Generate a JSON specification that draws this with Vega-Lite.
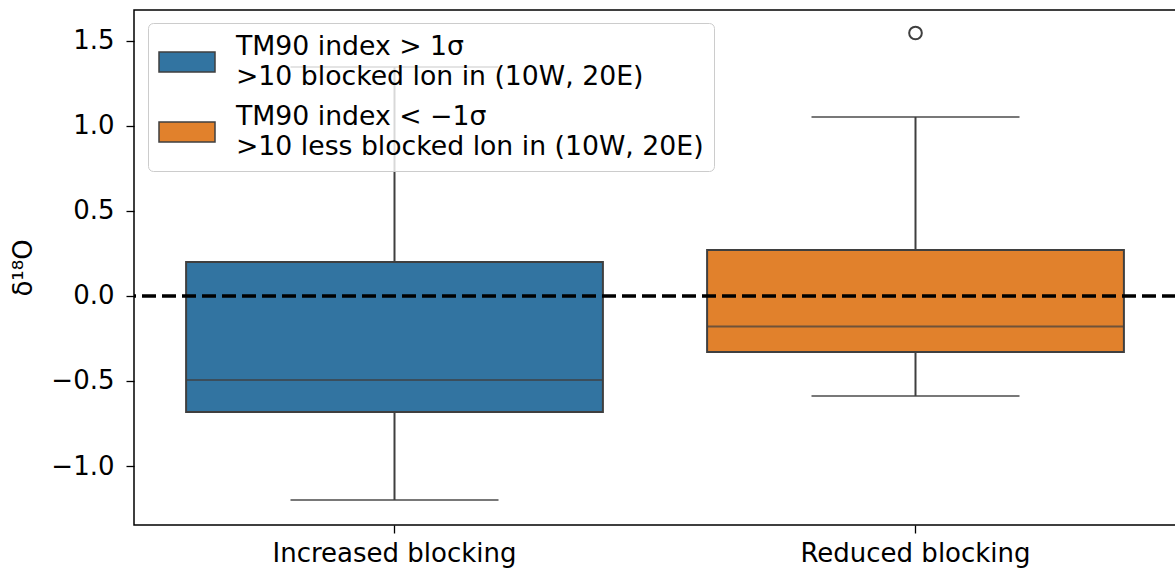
{
  "$schema": "https://vega.github.io/schema/vega-lite/v6.json",
  "autosize": {"type": "none"},
  "padding": {"left": 134, "top": 10, "right": 0, "bottom": 44},
  "width": 1042,
  "height": 515,
  "background": "white",
  "config": {
    "font": "DejaVu Sans",
    "view": {"stroke": "black", "strokeWidth": 1.5},
    "axis": {
      "domainColor": "black", "domainWidth": 1.5, "tickColor": "black", "tickWidth": 1.3, "tickSize": 8,
      "labelFontSize": 26, "labelColor": "black", "labelFont": "DejaVu Sans", "grid": false, "labelLimit": 1000,
      "titleFontSize": 26, "titleFontWeight": "normal", "titleColor": "black", "titleFont": "DejaVu Sans"
    },
    "legend": {
      "labelFontSize": 26.7, "labelColor": "black", "labelFont": "DejaVu Sans", "labelLimit": 1000
    },
    "style": {"guide-label": {"lineHeight": 29.5}}
  },
  "data": {"values": [
    {"group": "Increased blocking", "legend": "TM90 index  > 1σ|>10 blocked lon in (10W, 20E)", "lower": -1.2, "q1": -0.682, "median": -0.494, "q3": 0.2, "upper": 1.347},
    {"group": "Reduced blocking", "legend": "TM90 index  < −1σ|>10 less blocked lon in (10W, 20E)", "lower": -0.588, "q1": -0.33, "median": -0.18, "q3": 0.27, "upper": 1.053}
  ]},
  "encoding": {
    "x": {"field": "group", "type": "nominal", "sort": ["Increased blocking", "Reduced blocking"],
      "scale": {"paddingInner": 0, "paddingOuter": 0},
      "axis": {"title": null, "labelAngle": 0, "labelPadding": 7, "domain": false}}
  },
  "layer": [
    {
      "mark": {"type": "rule", "color": "#3f3f3f", "strokeWidth": 2},
      "encoding": {
        "y": {"field": "lower", "type": "quantitative", "scale": {"domain": [-1.347, 1.682], "nice": false, "zero": false},
          "title": "δ¹⁸O", "axis": {"values": [-1, -0.5, 0, 0.5, 1, 1.5], "format": ".1f", "labelPadding": 12, "titlePadding": 14, "domain": false}},
        "y2": {"field": "q1"}
      }
    },
    {
      "mark": {"type": "rule", "color": "#3f3f3f", "strokeWidth": 2},
      "encoding": {
        "y": {"field": "q3", "type": "quantitative", "title": "δ¹⁸O"},
        "y2": {"field": "upper"}
      }
    },
    {
      "mark": {"type": "bar", "width": {"band": 0.8}, "stroke": "#3f3f3f", "strokeWidth": 2, "opacity": 1},
      "encoding": {
        "y": {"field": "q1", "type": "quantitative", "title": "δ¹⁸O"},
        "y2": {"field": "q3"},
        "color": {"field": "legend", "type": "nominal",
          "scale": {"domain": ["TM90 index  > 1σ|>10 blocked lon in (10W, 20E)", "TM90 index  < −1σ|>10 less blocked lon in (10W, 20E)"], "range": ["#3274a1", "#e1812c"]},
          "legend": {
            "title": null, "orient": "none", "legendX": 14, "legendY": 13,
            "labelExpr": "split(datum.label, '|')",
            "symbolType": "M-1,-0.357H1V0.357H-1Z", "symbolSize": 3136, "symbolStrokeColor": "#3f3f3f", "symbolStrokeWidth": 1.5, "symbolOpacity": 1,
            "labelBaseline": "line-bottom", "labelOffset": 20, "rowPadding": 12,
            "fillColor": "rgba(255,255,255,0.8)", "strokeColor": "#cccccc", "cornerRadius": 5, "padding": 10
          }
        }
      }
    },
    {
      "mark": {"type": "tick", "color": "#3f3f3f", "size": 416, "thickness": 2},
      "encoding": {"y": {"field": "median", "type": "quantitative", "title": "δ¹⁸O"}}
    },
    {
      "mark": {"type": "tick", "color": "#3f3f3f", "size": 208, "thickness": 2},
      "encoding": {"y": {"field": "lower", "type": "quantitative", "title": "δ¹⁸O"}}
    },
    {
      "mark": {"type": "tick", "color": "#3f3f3f", "size": 208, "thickness": 2},
      "encoding": {"y": {"field": "upper", "type": "quantitative", "title": "δ¹⁸O"}}
    },
    {
      "data": {"values": [{"group": "Reduced blocking", "value": 1.547}]},
      "mark": {"type": "point", "filled": false, "color": "#3f3f3f", "strokeWidth": 2, "size": 160, "opacity": 1},
      "encoding": {"y": {"field": "value", "type": "quantitative", "title": "δ¹⁸O"}}
    },
    {
      "mark": {"type": "rule", "color": "black", "strokeWidth": 3, "strokeDash": [14, 6]},
      "encoding": {"y": {"datum": 0, "type": "quantitative", "title": "δ¹⁸O"}, "x": null}
    }
  ]
}
